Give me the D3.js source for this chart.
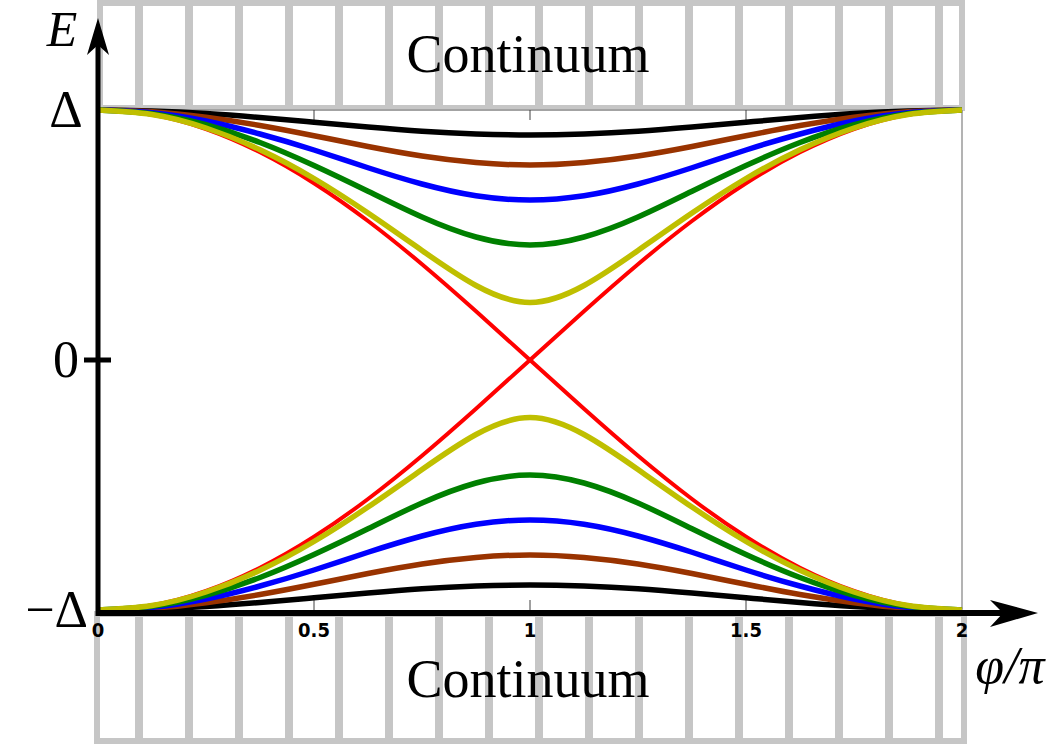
<!DOCTYPE html>
<html>
<head>
<meta charset="utf-8">
<script src="https://cdn.jsdelivr.net/npm/d3@7/dist/d3.min.js"></script>
<style>
  body { margin: 0; background: #fff; }
  svg { display: block; }
</style>
</head>
<body>
<div id="chart"></div>
<script>
// phase samples (phi / pi)
var phi = [0, 0.125, 0.25, 0.375, 0.5, 0.625, 0.75, 0.875, 1, 1.125, 1.25, 1.375, 1.5, 1.625, 1.75, 1.875, 2];

// E / Delta, upper branches
var blackUp  = [1, 0.996, 0.986, 0.970, 0.951, 0.932, 0.915, 0.904, 0.900, 0.904, 0.915, 0.932, 0.951, 0.970, 0.986, 0.996, 1];
var brownUp  = [1, 0.993, 0.971, 0.938, 0.897, 0.854, 0.816, 0.790, 0.780, 0.790, 0.816, 0.854, 0.897, 0.938, 0.971, 0.993, 1];
var blueUp   = [1, 0.989, 0.956, 0.904, 0.840, 0.769, 0.704, 0.657, 0.640, 0.657, 0.704, 0.769, 0.840, 0.904, 0.956, 0.989, 1];
var greenUp  = [1, 0.985, 0.941, 0.870, 0.778, 0.675, 0.572, 0.492, 0.460, 0.492, 0.572, 0.675, 0.778, 0.870, 0.941, 0.985, 1];
var yellowUp = [1, 0.982, 0.928, 0.841, 0.726, 0.588, 0.438, 0.298, 0.230, 0.298, 0.438, 0.588, 0.726, 0.841, 0.928, 0.982, 1];
// lower branches
var blackDn  = [-1, -0.996, -0.986, -0.970, -0.951, -0.932, -0.915, -0.904, -0.900, -0.904, -0.915, -0.932, -0.951, -0.970, -0.986, -0.996, -1];
var brownDn  = [-1, -0.993, -0.971, -0.938, -0.897, -0.854, -0.816, -0.790, -0.780, -0.790, -0.816, -0.854, -0.897, -0.938, -0.971, -0.993, -1];
var blueDn   = [-1, -0.989, -0.956, -0.904, -0.840, -0.769, -0.704, -0.657, -0.640, -0.657, -0.704, -0.769, -0.840, -0.904, -0.956, -0.989, -1];
var greenDn  = [-1, -0.985, -0.941, -0.870, -0.778, -0.675, -0.572, -0.492, -0.460, -0.492, -0.572, -0.675, -0.778, -0.870, -0.941, -0.985, -1];
var yellowDn = [-1, -0.982, -0.928, -0.841, -0.726, -0.588, -0.438, -0.298, -0.230, -0.298, -0.438, -0.588, -0.726, -0.841, -0.928, -0.982, -1];
// perfectly transmitting channel: the two crossing branches
var redA = [1, 0.981, 0.924, 0.831, 0.707, 0.556, 0.383, 0.195, 0, -0.195, -0.383, -0.556, -0.707, -0.831, -0.924, -0.981, -1];
var redB = [-1, -0.981, -0.924, -0.831, -0.707, -0.556, -0.383, -0.195, 0, 0.195, 0.383, 0.556, 0.707, 0.831, 0.924, 0.981, 1];

var xTicks = [0, 0.5, 1, 1.5, 2];
var yTicks = [1, 0, -1];
var yTickLabels = ["Δ", "0", "−Δ"];

var series = [
    {values: blackUp,  color: "#000000", w: 5.5},
    {values: blackDn,  color: "#000000", w: 5.5},
    {values: brownUp,  color: "#993300", w: 5.5},
    {values: brownDn,  color: "#993300", w: 5.5},
    {values: blueUp,   color: "#0000ff", w: 5.5},
    {values: blueDn,   color: "#0000ff", w: 5.5},
    {values: greenUp,  color: "#008000", w: 5.5},
    {values: greenDn,  color: "#008000", w: 5.5},
    {values: redA,     color: "#ff0000", w: 4},
    {values: redB,     color: "#ff0000", w: 4},
    {values: yellowUp, color: "#bfbf00", w: 5.5},
    {values: yellowDn, color: "#bfbf00", w: 5.5}
];

var width = 1053, height = 745;
var serif = "'Liberation Serif', 'DejaVu Serif', serif";
var gray = "#c6c6c6";

var x = d3.scaleLinear().domain([0, 2]).range([98, 962]);
var y = d3.scaleLinear().domain([-1, 1]).range([610, 110]);

var svg = d3.select("#chart").append("svg")
    .attr("width", width)
    .attr("height", height);

// continuum boxes (hatched with vertical bars)
function continuum(x0, y0, w, h, textY) {
    var g = svg.append("g");
    g.selectAll("rect.bar")
        .data(d3.range(139, 960, 50))
        .enter().append("rect")
        .attr("class", "bar")
        .attr("x", function (d) { return d - 4; })
        .attr("y", y0)
        .attr("width", 8)
        .attr("height", h)
        .attr("fill", gray);
    g.append("rect")
        .attr("x", x0).attr("y", y0)
        .attr("width", w).attr("height", h)
        .attr("fill", "none")
        .attr("stroke", gray)
        .attr("stroke-width", 6);
    g.append("text")
        .attr("x", 528)
        .attr("y", textY)
        .attr("text-anchor", "middle")
        .style("font-family", serif)
        .style("font-size", "54px")
        .text("Continuum");
}
continuum(100, 3, 862, 105, 72);
continuum(97, 614, 867, 127, 697);

// axes frame
svg.append("line")
    .attr("x1", x(0)).attr("x2", x(2))
    .attr("y1", y(1)).attr("y2", y(1))
    .attr("stroke", "#808080").attr("stroke-width", 1.2);
svg.append("line")
    .attr("x1", x(2)).attr("x2", x(2))
    .attr("y1", y(1)).attr("y2", y(-1))
    .attr("stroke", "#808080").attr("stroke-width", 1.2);

// small inner ticks top and bottom
var inner = xTicks.filter(function (d) { return d > 0 && d < 2; });
svg.selectAll("line.ttop")
    .data(inner).enter().append("line")
    .attr("x1", function (d) { return x(d); })
    .attr("x2", function (d) { return x(d); })
    .attr("y1", y(1)).attr("y2", y(1) + 10)
    .attr("stroke", "#404040").attr("stroke-width", 1);
svg.selectAll("line.tbot")
    .data(inner).enter().append("line")
    .attr("x1", function (d) { return x(d); })
    .attr("x2", function (d) { return x(d); })
    .attr("y1", y(-1)).attr("y2", y(-1) - 10)
    .attr("stroke", "#404040").attr("stroke-width", 1);

// curves
var line = d3.line()
    .x(function (d, i) { return x(phi[i]); })
    .y(function (d) { return y(d); })
    .curve(d3.curveNatural);

svg.selectAll("path.curve")
    .data(series)
    .enter().append("path")
    .attr("class", "curve")
    .attr("d", function (d) { return line(d.values); })
    .attr("fill", "none")
    .attr("stroke", function (d) { return d.color; })
    .attr("stroke-width", function (d) { return d.w; })
    .attr("stroke-linejoin", "round");

// x axis with arrow
var axisY = 613;
svg.append("line")
    .attr("x1", x(0) - 2).attr("x2", 1005)
    .attr("y1", axisY).attr("y2", axisY)
    .attr("stroke", "#000").attr("stroke-width", 6);
svg.append("path")
    .attr("d", "M1038," + axisY + " L990," + (axisY - 13) + " L1003," + axisY + " L990," + (axisY + 14) + " Z")
    .attr("fill", "#000");

// y axis with arrow
svg.append("line")
    .attr("x1", x(0)).attr("x2", x(0))
    .attr("y1", axisY + 3).attr("y2", 45)
    .attr("stroke", "#000").attr("stroke-width", 5);
svg.append("path")
    .attr("d", "M" + x(0) + ",18 L" + (x(0) - 11) + ",55 L" + x(0) + ",45 L" + (x(0) + 11) + ",55 Z")
    .attr("fill", "#000");

// zero tick on y axis
svg.append("line")
    .attr("x1", x(0) - 14).attr("x2", x(0) + 13)
    .attr("y1", y(0)).attr("y2", y(0))
    .attr("stroke", "#000").attr("stroke-width", 5);

// x tick labels
svg.selectAll("text.xt")
    .data(xTicks).enter().append("text")
    .attr("class", "xt")
    .attr("x", function (d) { return x(d); })
    .attr("y", 637)
    .attr("text-anchor", "middle")
    .style("font-family", "'Liberation Sans Narrow', 'DejaVu Sans Condensed', 'Liberation Sans', sans-serif")
    .style("font-weight", "bold")
    .style("font-size", "20px")
    .text(d3.format("~g"));

// y tick labels
svg.selectAll("text.yt")
    .data(yTicks).enter().append("text")
    .attr("class", "yt")
    .attr("x", function (d, i) { return i == 2 ? 88 : 66; })
    .attr("y", function (d) { return y(d) + 17; })
    .attr("text-anchor", function (d, i) { return i == 2 ? "end" : "middle"; })
    .style("font-family", serif)
    .style("font-size", "52px")
    .text(function (d, i) { return yTickLabels[i]; });

// axis titles
svg.append("text")
    .attr("x", 62).attr("y", 46)
    .attr("text-anchor", "middle")
    .style("font-family", serif)
    .style("font-style", "italic")
    .style("font-size", "50px")
    .text("E");
svg.append("text")
    .attr("x", 1010).attr("y", 683)
    .attr("text-anchor", "middle")
    .style("font-family", serif)
    .style("font-style", "italic")
    .style("font-size", "52px")
    .text("φ/π");
</script>
</body>
</html>
